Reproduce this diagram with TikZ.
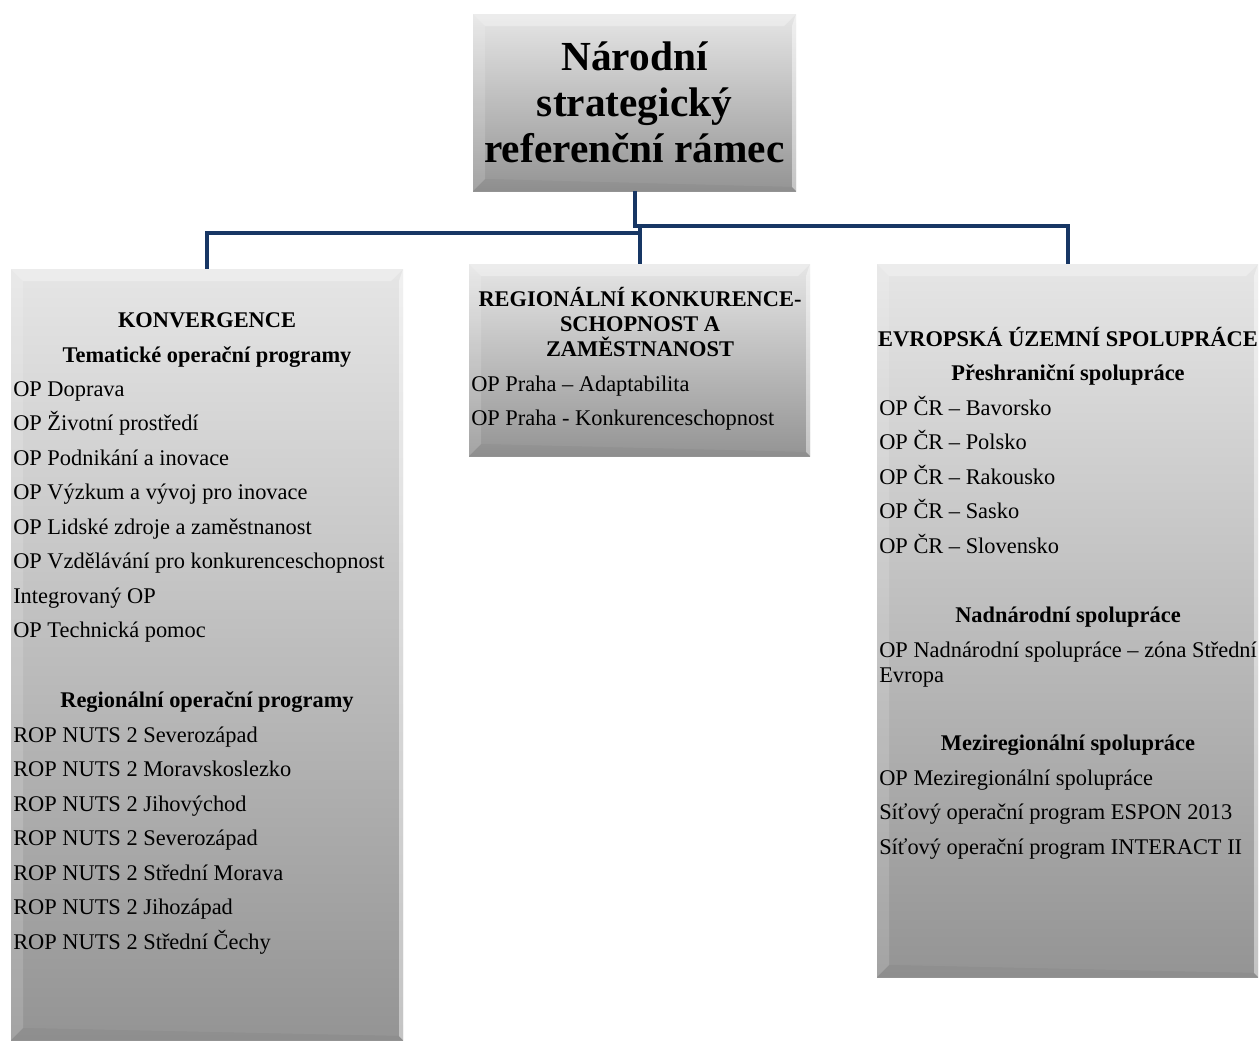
\documentclass[tikz,border=0pt]{standalone}
\usepackage{fontspec}
\setmainfont{Liberation Serif}
\usetikzlibrary{fit}
\definecolor{linkblue}{RGB}{23,54,100}
\tikzset{
  box/.style={inner sep=0pt, top color=black!10, bottom color=black!42,
    path picture={
      \coordinate (bnw) at (path picture bounding box.north west);
      \coordinate (bne) at (path picture bounding box.north east);
      \coordinate (bsw) at (path picture bounding box.south west);
      \coordinate (bse) at (path picture bounding box.south east);
      \fill[white,opacity=0.3] (bnw) -- (bne) -- ([shift={(-9pt,-9pt)}]bne) -- ([shift={(9pt,-9pt)}]bnw) -- cycle;
      \fill[white,opacity=0.15] (bnw) -- (bsw) -- ([shift={(9pt,9pt)}]bsw) -- ([shift={(9pt,-9pt)}]bnw) -- cycle;
      \fill[white,opacity=0.45] (bne) -- (bse) -- ([shift={(-3pt,3pt)}]bse) -- ([shift={(-3pt,-9pt)}]bne) -- cycle;
      \fill[black,opacity=0.04] (bsw) -- (bse) -- ([shift={(-3pt,3pt)}]bse) -- ([shift={(9pt,9pt)}]bsw) -- cycle;
    }},
  link/.style={draw=linkblue, line width=3pt},
  title/.style={align=center, inner sep=0pt, font=\fontsize{31}{34.5}\selectfont\bfseries},
  item/.style={anchor=base west, inner sep=0pt, font=\fontsize{16.8}{20}\selectfont},
  head/.style={anchor=base, inner sep=0pt, font=\fontsize{16.8}{20}\selectfont\bfseries},
}
\begin{document}
\begin{tikzpicture}[x=0.75pt,y=-0.75pt]
\useasboundingbox (0,0) rectangle (1260,1042);
% Draw boxes
\node[box, fit={(473,14) (796,191)}] (nsrr) {};
\node[box, fit={(11,269) (403,1040)}] (konv) {};
\node[box, fit={(469,264) (810,456)}] (rks) {};
\node[box, fit={(877,264) (1258,977)}] (ezs) {};
\node[title] (nsrrT) at (634.5,102) {Národní\\strategický\\referenční rámec};

% Draw connectors
\draw[link] (nsrr.south) -- ++(0,35) coordinate (split) -| (ezs.north);
\draw[link] (konv.north) -- ++(0,-36) -| (rks.north);
\draw[link] (rks.north) -- (rks.north |- split);

% Konvergence
\node[head] (konvH) at (207,327) {KONVERGENCE};
\node[head] (konvT) at (207,362) {Tematické operační programy};
\node[item] (konv1) at (13,396) {OP Doprava};
\node[item] (konv2) at (13,430.5) {OP Životní prostředí};
\node[item] (konv3) at (13,465) {OP Podnikání a inovace};
\node[item] (konv4) at (13,499.5) {OP Výzkum a vývoj pro inovace};
\node[item] (konv5) at (13,534) {OP Lidské zdroje a zaměstnanost};
\node[item] (konv6) at (13,568.5) {OP Vzdělávání pro konkurenceschopnost};
\node[item] (konv7) at (13,603) {Integrovaný OP};
\node[item] (konv8) at (13,637.5) {OP Technická pomoc};
\node[head] (konvR) at (207,707) {Regionální operační programy};
\node[item] (rop1) at (13,742) {ROP NUTS 2 Severozápad};
\node[item] (rop2) at (13,776.5) {ROP NUTS 2 Moravskoslezko};
\node[item] (rop3) at (13,811) {ROP NUTS 2 Jihovýchod};
\node[item] (rop4) at (13,845.5) {ROP NUTS 2 Severozápad};
\node[item] (rop5) at (13,880) {ROP NUTS 2 Střední Morava};
\node[item] (rop6) at (13,914.5) {ROP NUTS 2 Jihozápad};
\node[item] (rop7) at (13,949) {ROP NUTS 2 Střední Čechy};

% Regionalni konkurenceschopnost
\node[head] (rksH1) at (640,306) {REGIONÁLNÍ KONKURENCE-};
\node[head] (rksH2) at (640,331) {SCHOPNOST A};
\node[head] (rksH3) at (640,356) {ZAMĚSTNANOST};
\node[item] (rks1) at (471,391) {OP Praha – Adaptabilita};
\node[item] (rks2) at (471,425.5) {OP Praha - Konkurenceschopnost};

% Evropska uzemni spoluprace
\node[head] (ezsH) at (1068,346) {EVROPSKÁ ÚZEMNÍ SPOLUPRÁCE};
\node[head] (ezsP) at (1068,380) {Přeshraniční spolupráce};
\node[item] (ezs1) at (879,415) {OP ČR – Bavorsko};
\node[item] (ezs2) at (879,449.5) {OP ČR – Polsko};
\node[item] (ezs3) at (879,484) {OP ČR – Rakousko};
\node[item] (ezs4) at (879,518.5) {OP ČR – Sasko};
\node[item] (ezs5) at (879,553) {OP ČR – Slovensko};
\node[head] (ezsN) at (1068,622) {Nadnárodní spolupráce};
\node[item] (ezs6) at (879,657) {OP Nadnárodní spolupráce – zóna Střední};
\node[item] (ezs6b) at (879,682) {Evropa};
\node[head] (ezsM) at (1068,750) {Meziregionální spolupráce};
\node[item] (ezs7) at (879,785) {OP Meziregionální spolupráce};
\node[item] (ezs8) at (879,819.5) {Síťový operační program ESPON 2013};
\node[item] (ezs9) at (879,854) {Síťový operační program INTERACT II};
\end{tikzpicture}
\end{document}
